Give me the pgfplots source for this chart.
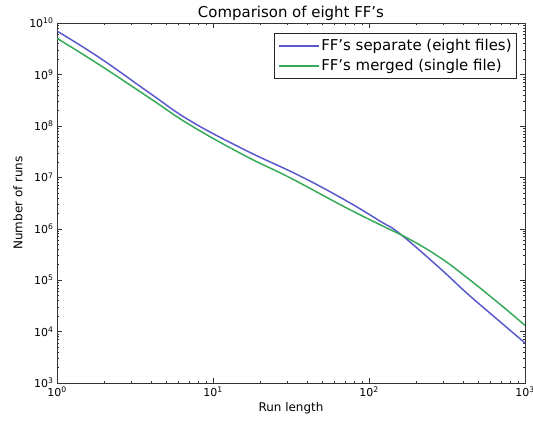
\documentclass[border=0pt]{standalone}
\usepackage{pgfplots}
\pgfplotsset{compat=1.18}
\usepackage{fontspec}
\setmainfont{DejaVu Sans}
\definecolor{mblue}{RGB}{90,90,205}
\definecolor{mgreen}{RGB}{55,170,90}
\begin{document}
\begin{tikzpicture}
\begin{axis}[
  at={(0,0)}, anchor=south west,
  scale only axis, width=468bp, height=360bp,
  xmode=log, ymode=log, log basis x=10, log basis y=10,
  xmin=1, xmax=1000, ymin=1e3, ymax=1e10,
  xtick={1,10,100,1000},
  ytick={1e3,1e4,1e5,1e6,1e7,1e8,1e9,1e10},
  minor xtick={2,3,4,5,6,7,8,9,20,30,40,50,60,70,80,90,200,300,400,500,600,700,800,900},
  minor ytick={2e3,3e3,4e3,5e3,6e3,7e3,8e3,9e3,2e4,3e4,4e4,5e4,6e4,7e4,8e4,9e4,2e5,3e5,4e5,5e5,6e5,7e5,8e5,9e5,2e6,3e6,4e6,5e6,6e6,7e6,8e6,9e6,2e7,3e7,4e7,5e7,6e7,7e7,8e7,9e7,2e8,3e8,4e8,5e8,6e8,7e8,8e8,9e8,2e9,3e9,4e9,5e9,6e9,7e9,8e9,9e9},
  xticklabel={\pgfmathtruncatemacro\e{round(\tick)}10\textsuperscript{\e}},
  yticklabel={\pgfmathtruncatemacro\e{round(\tick)}10\textsuperscript{\e}},
  tick label style={font=\fontsize{11}{13}\selectfont},
  tick align=inside,
  major tick length=5bp, minor tick length=2.5bp,
  every tick/.style={black!80},
  axis line style={black!80, line width=0.9pt},
  xlabel={Run length}, ylabel={Number of runs},
  label style={font=\fontsize{12}{14}\selectfont},
  xlabel style={yshift=1bp},
  ylabel style={yshift=0bp},
  title={Comparison of eight FF's},
  title style={font=\fontsize{15}{17}\selectfont, yshift=-7bp},
  legend style={at={(0.983,0.972)}, anchor=north east, draw=black!85, line width=0.9pt,
    font=\fontsize{15}{17}\selectfont, row sep=3bp, inner xsep=3bp, inner ysep=4bp},
  legend cell align=left,
  legend image code/.code={\path (0bp,0bp) -- (40bp,0bp);\draw[#1, line width=1.5pt] (9bp,0bp) -- (28bp,0bp);},
]
\addplot[mblue, line width=1.5pt, smooth, tension=0.7] coordinates {
(1,6.98e9) (1.888,2.08e9) (3.945,4.30e8) (7.129,1.26e8) (16.03,3.40e7)
(36.14,1.06e7) (70.15,3.61e6) (117.5,1.41e6) (158.5,7.9e5)
(285.1,1.70e5) (424.6,5.55e4) (691.8,1.556e4) (1000,6.0e3)};
\addlegendentry{FF's separate (eight files)}
\addplot[mgreen, line width=1.5pt, smooth, tension=0.7] coordinates {
(1,5.05e9) (1.888,1.51e9) (3.945,3.44e8) (7.129,1.04e8) (16.03,2.63e7)
(31.19,9.77e6) (70.15,2.63e6) (117.5,1.20e6) (183.2,6.17e5)
(285.1,2.75e5) (424.6,1.12e5) (691.8,3.39e4) (1000,1.32e4)};
\addlegendentry{FF's merged (single file)}
\end{axis}
\pgfresetboundingbox
\path[use as bounding box] (-57bp,-40bp) rectangle (476bp,383bp);
\end{tikzpicture}
\end{document}
